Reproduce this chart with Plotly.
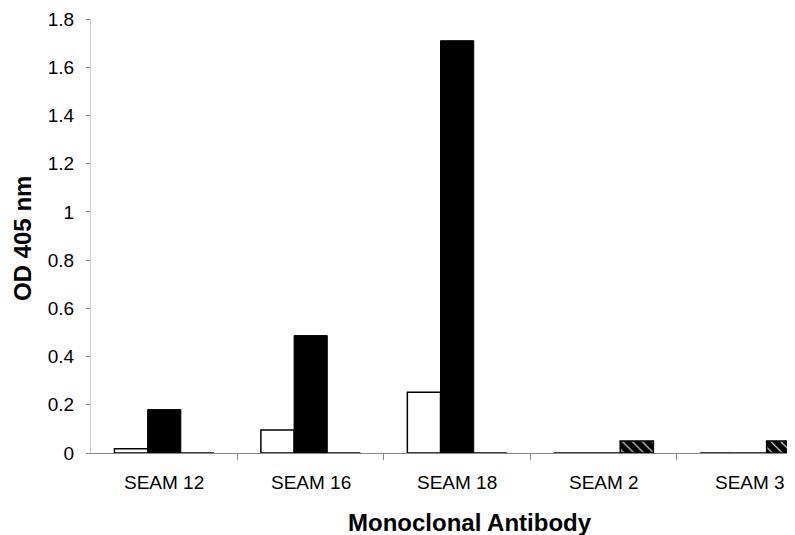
import plotly.graph_objects as go

categories = ["SEAM 12", "SEAM 16", "SEAM 18", "SEAM 2", "SEAM 3"]
white_vals = [0.018, 0.095, 0.252, 0.0, 0.0]
black_vals = [0.18, 0.487, 1.71, 0.0, 0.0]
hatch_vals = [0.0, 0.0, 0.0, 0.05, 0.05]
y_ticks = [0, 0.2, 0.4, 0.6, 0.8, 1, 1.2, 1.4, 1.6, 1.8]
y_tick_labels = ["0", "0.2", "0.4", "0.6", "0.8", "1", "1.2", "1.4", "1.6", "1.8"]
x_title = "Monoclonal Antibody"
y_title = "OD 405 nm"

font = "Liberation Sans, Arial, sans-serif"

# page body has an 8px margin; the figure is sized/offset to compensate
OFF = 8
W, H = 795 - OFF, 535 - OFF
L, T, R = 91 - OFF, 19 - OFF, 0
B = H - (453 - OFF)
pw = W - L - R
ph = H - T - B

fig = go.Figure()
fig.add_trace(go.Bar(x=categories, y=white_vals, name="white",
                     marker=dict(color="white", line=dict(color="black", width=1.5))))
fig.add_trace(go.Bar(x=categories, y=black_vals, name="black",
                     marker=dict(color="black", line=dict(color="black", width=1))))
fig.add_trace(go.Bar(x=categories, y=hatch_vals, name="hatched",
                     marker=dict(color="black", line=dict(color="black", width=1.5),
                                 pattern=dict(shape="\\", fgcolor="white", bgcolor="black",
                                              size=7, solidity=0.15, fillmode="replace"))))

fig.update_layout(
    width=W, height=H,
    paper_bgcolor="white", plot_bgcolor="white",
    margin=dict(l=L, r=R, t=T, b=B, autoexpand=False),
    barmode="group", bargap=0.32, bargroupgap=0,
    showlegend=False,
    font=dict(family=font, color="black", size=19),
    xaxis=dict(
        range=[-0.5, 4.307], automargin=False,
        showline=True, linecolor="#888", linewidth=1,
        ticks="outside", ticklen=6, tickcolor="#888",
        tickmode="array", tickvals=[0.5, 1.5, 2.5, 3.5], ticktext=["", "", "", ""],
        showgrid=False, zeroline=False,
    ),
    yaxis=dict(
        range=[0, 1.8], automargin=False,
        tickvals=y_ticks, ticktext=y_tick_labels,
        showline=True, linecolor="#ccc", linewidth=1,
        ticks="outside", ticklen=4, tickcolor="#888",
        ticklabelstandoff=8,
        tickfont=dict(size=19, family=font),
        showgrid=False, zeroline=False,
    ),
)

# category labels centered on categories
for c in categories:
    fig.add_annotation(x=c, y=0, xref="x", yref="y", text=c, showarrow=False,
                       yanchor="middle", yshift=-29, font=dict(size=19, family=font))

# axis titles (window pixel positions converted to paper coords)
fig.add_annotation(x=(470 - 91) / pw, y=(453 - 522) / ph, xref="paper", yref="paper",
                   xanchor="center", yanchor="middle",
                   text="<b>" + x_title + "</b>", showarrow=False,
                   font=dict(size=24, family=font))
fig.add_annotation(x=(22 - 91) / pw, y=(453 - 239) / ph, xref="paper", yref="paper",
                   xanchor="center", yanchor="middle",
                   text="<b>" + y_title + "</b>", showarrow=False, textangle=-90,
                   font=dict(size=24, family=font))

fig.write_html("out.html")
